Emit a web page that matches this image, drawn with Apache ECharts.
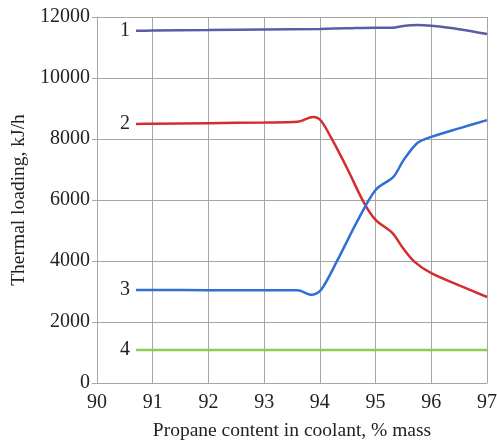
<!DOCTYPE html>
<html><head><meta charset="utf-8">
<script src="https://cdn.jsdelivr.net/npm/echarts@6/dist/echarts.min.js"></script>
<style>html,body{margin:0;padding:0;background:#fff}#c{width:497px;height:442px}</style>
</head><body><div id="c"></div>
<script>
const xTicks = [90, 91, 92, 93, 94, 95, 96, 97];
const yTicks = [0, 2000, 4000, 6000, 8000, 10000, 12000];
const seriesNames = ['1', '2', '3', '4'];
const series1 = [[90.7,11550],[91,11555],[92,11570],[93,11590],[94,11610],[94.5,11630],[95,11650],[95.3,11645],[95.5,11705],[95.75,11740],[96,11710],[96.5,11600],[97,11440]];
const series2 = [[90.7,8490],[91,8500],[92,8520],[93,8540],[93.6,8565],[93.88,8720],[94.02,8600],[94.2,8050],[94.5,7000],[94.78,5950],[95,5350],[95.3,4920],[95.5,4400],[95.7,3970],[96,3600],[96.5,3200],[97,2820]];
const series3 = [[90.7,3050],[91,3050],[92,3045],[93,3040],[93.6,3040],[93.85,2890],[94.02,3050],[94.3,3970],[94.67,5300],[95,6330],[95.32,6760],[95.5,7300],[95.75,7870],[96,8070],[96.5,8350],[97,8620]];
const series4 = [[90.7,1080],[97,1080]];
const colors = ['#5a5ca6', '#d42d2d', '#2f6fd6', '#8ecb58'];
const font = '"Liberation Serif","Times New Roman",serif';

function withLabel(data, name) {
  return data.map((p, i) => i === 0 ? {value: p, label: {show: true, formatter: name, position: 'left', distance: 6, color: '#222', fontSize: 20, fontFamily: font}} : p);
}
const allData = [series1, series2, series3, series4];
const chart = echarts.init(document.getElementById('c'));
chart.setOption({
  animation: false,
  grid: {left: 97, right: 10, top: 17, bottom: 59, outerBoundsMode: 'none', containLabel: false},
  xAxis: {
    type: 'value', min: xTicks[0], max: xTicks[xTicks.length-1], interval: 1,
    name: 'Propane content in coolant, % mass', nameLocation: 'middle', nameGap: 38,
    nameTextStyle: {fontFamily: font, fontSize: 19.5, color: '#222'},
    axisLine: {show: true, lineStyle: {color: '#a6a6a6'}},
    axisTick: {show: false},
    axisLabel: {fontFamily: font, fontSize: 20, color: '#222', margin: 10, formatter: v => String(v)},
    splitLine: {show: true, lineStyle: {color: '#a6a6a6', width: 1}}
  },
  yAxis: {
    type: 'value', min: yTicks[0], max: yTicks[yTicks.length-1], interval: 2000,
    name: 'Thermal loading, kJ/h', nameLocation: 'middle', nameGap: 67, nameRotate: 90,
    nameTextStyle: {fontFamily: font, fontSize: 19.5, color: '#222'},
    axisLine: {show: true, lineStyle: {color: '#a6a6a6'}},
    axisTick: {show: true, length: 5, lineStyle: {color: '#a6a6a6'}},
    axisLabel: {fontFamily: font, fontSize: 20, color: '#222', margin: 7, formatter: v => String(v)},
    splitLine: {show: true, lineStyle: {color: '#a6a6a6', width: 1}}
  },
  series: allData.map((d, i) => ({
    type: 'line', name: seriesNames[i], data: withLabel(d, seriesNames[i]),
    smooth: 0.3, showSymbol: true, symbol: 'circle', symbolSize: 0,
    lineStyle: {color: colors[i], width: 2.5},
    itemStyle: {color: colors[i]}
  }))
});
</script></body></html>
